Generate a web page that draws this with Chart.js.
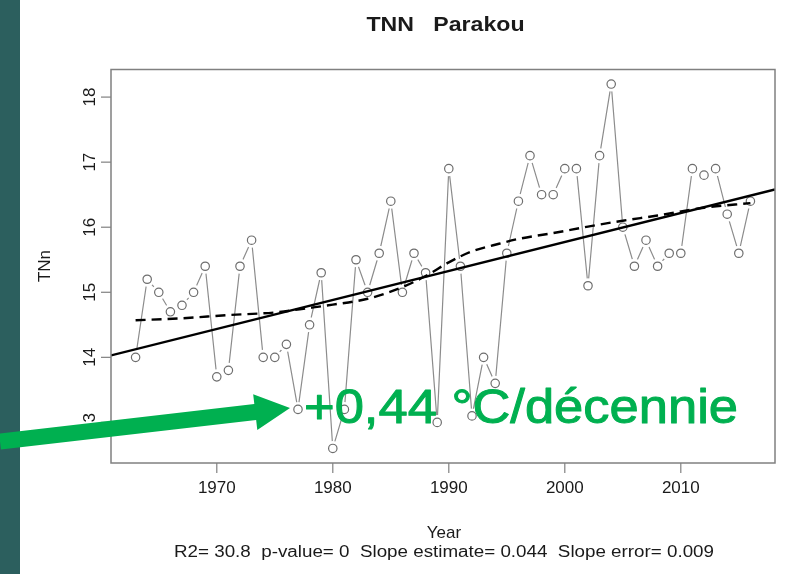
<!DOCTYPE html>
<html>
<head>
<meta charset="utf-8">
<title>TNN Parakou</title>
<script src="https://cdn.jsdelivr.net/npm/chart.js@4.4.1/dist/chart.umd.min.js"></script>
<style>
    html, body { margin: 0; padding: 0; background: #fff; }
    #wrap { width: 808px; height: 574px; position: relative; }
</style>
</head>
<body>
<div id="wrap"><canvas id="tnnChart" width="808" height="574"></canvas></div>
<script>
// Annual TNn at Parakou
const years = [1963, 1964, 1965, 1966, 1967, 1968, 1969, 1970, 1971, 1972,
    1973, 1974, 1975, 1976, 1977, 1978, 1979, 1980, 1981, 1982,
    1983, 1984, 1985, 1986, 1987, 1988, 1989, 1990, 1991, 1992,
    1993, 1994, 1995, 1996, 1997, 1998, 1999, 2000, 2001, 2002,
    2003, 2004, 2005, 2006, 2007, 2008, 2009, 2010, 2011, 2012,
    2013, 2014, 2015, 2016];
const tnn = [14.0, 15.2, 15.0, 14.7, 14.8, 15.0, 15.4, 13.7, 13.8, 15.4,
    15.8, 14.0, 14.0, 14.2, 13.2, 14.5, 15.3, 12.6, 13.2, 15.5,
    15.0, 15.6, 16.4, 15.0, 15.6, 15.3, 13.0, 16.9, 15.4, 13.1,
    14.0, 13.6, 15.6, 16.4, 17.1, 16.5, 16.5, 16.9, 16.9, 15.1,
    17.1, 18.2, 16.0, 15.4, 15.8, 15.4, 15.6, 15.6, 16.9, 16.8,
    16.9, 16.2, 15.6, 16.4];

// linear trend (abline) ends, read at the plot edges
const trendYears = [1960.88, 2018.12];
const trendValues = [14.03, 16.58];

// dashed smoothed curve
const smoothYears = [1963, 1967, 1971, 1975, 1978, 1980, 1983, 1986, 1988, 1990,
    1992, 1994, 1996, 1999, 2002, 2005, 2008, 2012, 2016];
const smoothValues = [14.57, 14.60, 14.65, 14.69, 14.76, 14.81, 14.90, 15.08, 15.25, 15.46,
    15.63, 15.73, 15.82, 15.91, 16.01, 16.10, 16.18, 16.30, 16.37];

const xTicks = [1970, 1980, 1990, 2000, 2010];
const yTicks = [13, 14, 15, 16, 17, 18];

const titleText = 'TNN   Parakou';
const xTitle = 'Year';
const yTitle = 'TNn';
const statsText = 'R2= 30.8  p-value= 0  Slope estimate= 0.044  Slope error= 0.009';
const noteText = '+0,44 °C/décennie';

const FONT = '"Liberation Sans", Arial, Helvetica, sans-serif';
const GREEN = '#00b050';

// draw text centred on cx, squeezed/stretched to a given width
function fitText(ctx, text, cx, y, width, font, baseline, outline) {
    ctx.save();
    ctx.font = font;
    const w = ctx.measureText(text).width;
    ctx.translate(cx, y);
    ctx.scale(width / w, 1);
    ctx.textAlign = 'center';
    ctx.textBaseline = baseline || 'middle';
    ctx.fillText(text, 0, 0);
    if (outline) {
        ctx.strokeStyle = ctx.fillStyle;
        ctx.lineWidth = outline;
        ctx.lineJoin = 'round';
        ctx.strokeText(text, 0, 0);
    }
    ctx.restore();
}

const backdrop = {
    id: 'backdrop',
    beforeDraw(chart) {
        const ctx = chart.ctx;
        ctx.save();
        ctx.fillStyle = '#fff';
        ctx.fillRect(0, 0, chart.width, chart.height);
        ctx.fillStyle = '#2c5f5e';
        ctx.fillRect(0, 0, 20, chart.height);
        ctx.restore();
    }
};

// R-style box, ticks and labels
const rAxes = {
    id: 'rAxes',
    afterDatasetsDraw(chart) {
        const ctx = chart.ctx;
        const a = chart.chartArea;
        const xs = chart.scales.x, ys = chart.scales.y;
        ctx.save();
        ctx.strokeStyle = '#808080';
        ctx.lineWidth = 1.5;
        ctx.strokeRect(a.left, a.top, a.right - a.left, a.bottom - a.top);

        ctx.fillStyle = '#1a1a1a';
        ctx.lineWidth = 1.2;
        ctx.font = '17px ' + FONT;
        ctx.textAlign = 'center';
        ctx.textBaseline = 'middle';
        xTicks.forEach(t => {
            const px = xs.getPixelForValue(t);
            ctx.beginPath();
            ctx.moveTo(px, a.bottom);
            ctx.lineTo(px, a.bottom + 10);
            ctx.stroke();
            ctx.fillText(String(t), px, 488);
        });
        yTicks.forEach(t => {
            const py = ys.getPixelForValue(t);
            ctx.beginPath();
            ctx.moveTo(a.left, py);
            ctx.lineTo(a.left - 10, py);
            ctx.stroke();
            ctx.save();
            ctx.translate(90, py);
            ctx.rotate(-Math.PI / 2);
            ctx.fillText(String(t), 0, 0);
            ctx.restore();
        });

        ctx.save();
        ctx.translate(45, 266);
        ctx.rotate(-Math.PI / 2);
        ctx.fillText(yTitle, 0, 0);
        ctx.restore();

        ctx.fillText(xTitle, 444, 533);
        fitText(ctx, statsText, 444, 553, 540, '16px ' + FONT);
        fitText(ctx, titleText, 445.5, 25, 158, 'bold 20px ' + FONT);
        ctx.restore();
    },
    afterDraw(chart) {
        const ctx = chart.ctx;
        // green arrow
        const sx = 0, sy = 441.5, tx = 290, ty = 408;
        const L = Math.hypot(tx - sx, ty - sy);
        const dx = (tx - sx) / L, dy = (ty - sy) / L;
        const nx = -dy, ny = dx;
        const bx = tx - dx * 35, by = ty - dy * 35;
        const hs = 8, hh = 18;
        ctx.save();
        ctx.fillStyle = GREEN;
        ctx.beginPath();
        ctx.moveTo(sx + nx * hs, sy + ny * hs);
        ctx.lineTo(bx + nx * hs, by + ny * hs);
        ctx.lineTo(bx + nx * hh, by + ny * hh);
        ctx.lineTo(tx, ty);
        ctx.lineTo(bx - nx * hh, by - ny * hh);
        ctx.lineTo(bx - nx * hs, by - ny * hs);
        ctx.lineTo(sx - nx * hs, sy - ny * hs);
        ctx.closePath();
        ctx.fill();
        fitText(ctx, noteText, 521, 423, 434, '48px ' + FONT, 'alphabetic', 1);
        ctx.restore();
    }
};

const series = years.map((yr, i) => ({ x: yr, y: tnn[i] }));
const trend = trendYears.map((yr, i) => ({ x: yr, y: trendValues[i] }));
const smooth = smoothYears.map((yr, i) => ({ x: yr, y: smoothValues[i] }));

new Chart(document.getElementById('tnnChart'), {
    type: 'scatter',
    data: {
        datasets: [
            { data: trend, showLine: true, borderColor: '#000', borderWidth: 2.4,
              pointRadius: 0, order: 0 },
            { data: smooth, showLine: true, borderColor: '#000', borderWidth: 2.4,
              borderDash: [10, 6], pointRadius: 0, cubicInterpolationMode: 'monotone', order: 0 },
            { data: series, showLine: false, pointRadius: 4.2, pointBorderWidth: 1.2,
              pointBackgroundColor: 'rgba(0,0,0,0)', pointBorderColor: '#6e6e6e', order: 1 },
            // white halo so the connecting line stops short of each circle
            { data: series, showLine: false, pointRadius: 7.5, pointBorderWidth: 0,
              pointBackgroundColor: '#fff', pointBorderColor: '#fff', order: 2 },
            { data: series, showLine: true, borderColor: '#8c8c8c', borderWidth: 1.2,
              pointRadius: 0, order: 3 }
        ]
    },
    options: {
        responsive: false,
        animation: false,
        devicePixelRatio: 1,
        layout: { padding: { left: 111, right: 33, top: 69.5, bottom: 111 } },
        plugins: { legend: { display: false }, tooltip: { enabled: false } },
        scales: {
            x: { type: 'linear', min: 1960.88, max: 2018.12, display: false },
            y: { type: 'linear', min: 12.376, max: 18.424, display: false }
        }
    },
    plugins: [backdrop, rAxes]
});
</script>
</body>
</html>
